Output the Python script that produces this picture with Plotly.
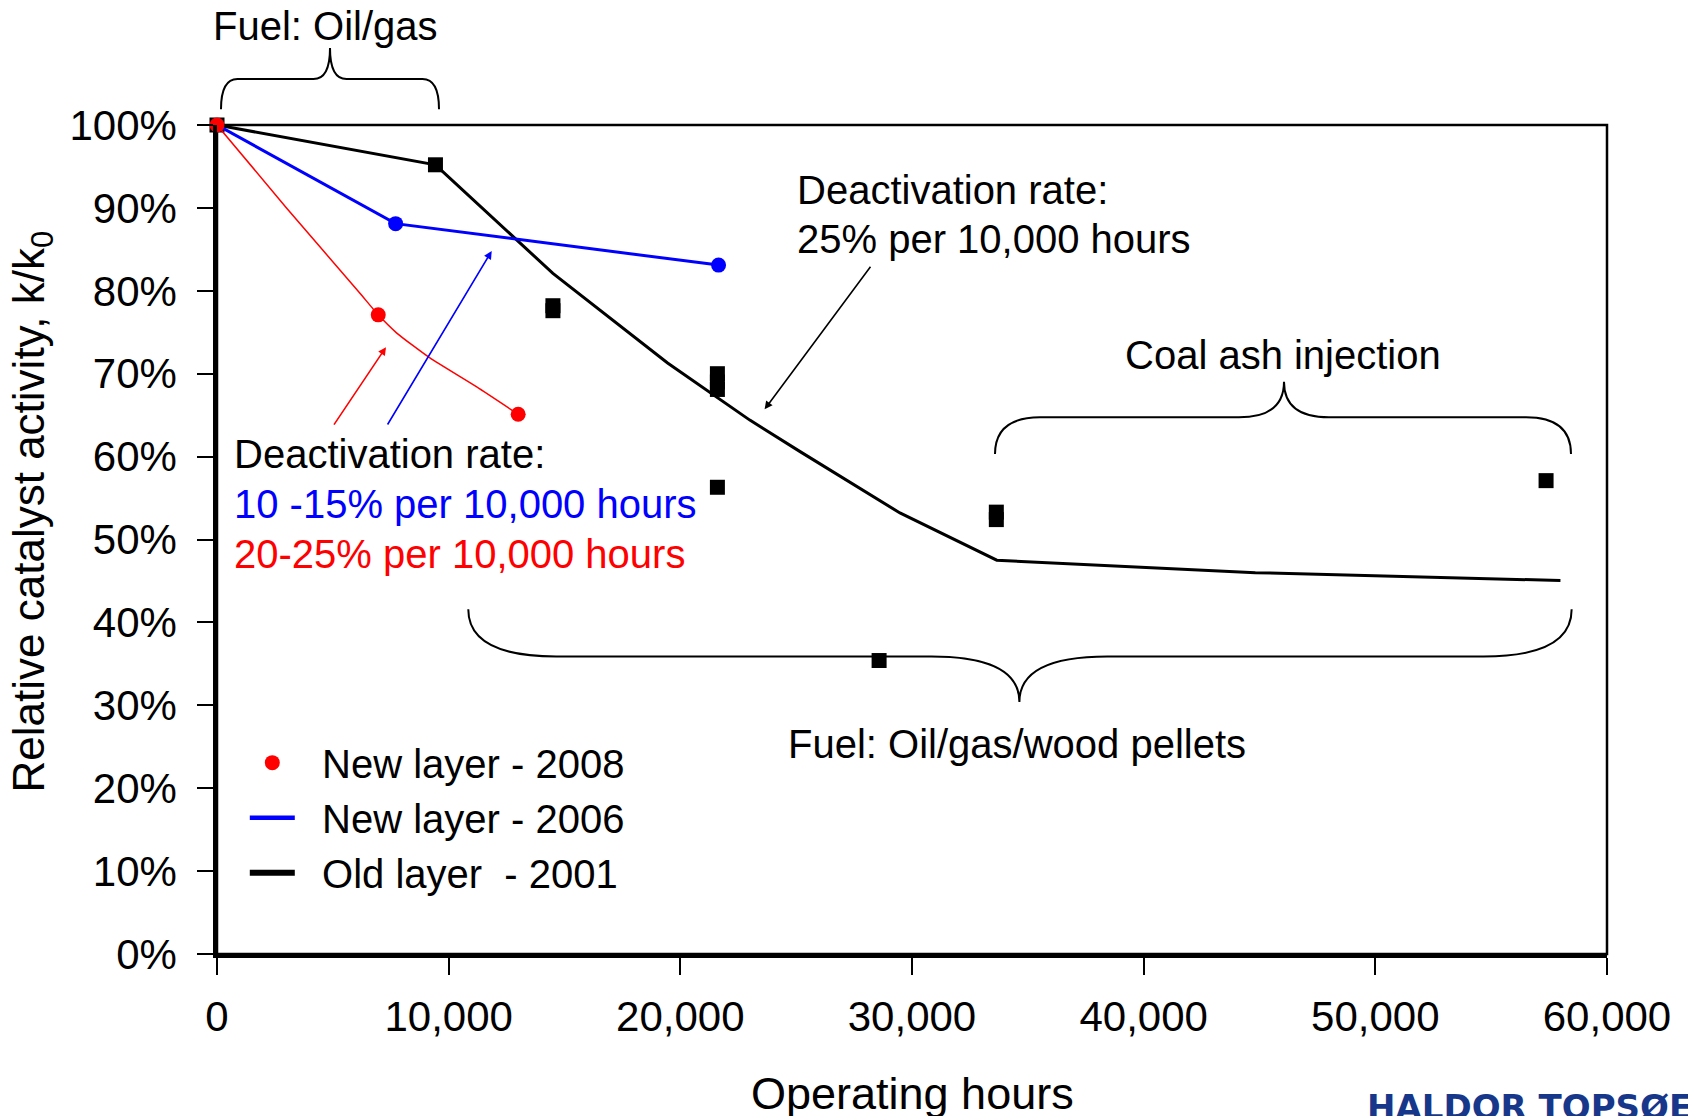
import plotly.graph_objects as go

FONT = "Arial, Liberation Sans, sans-serif"
X_RANGE = [0, 60000]
Y_RANGE = [0, 100]

x_ticks = [0, 10000, 20000, 30000, 40000, 50000, 60000]
y_ticks = [0, 10, 20, 30, 40, 50, 60, 70, 80, 90, 100]
y_tick_labels = [f"{v}%" for v in y_ticks]

# New layer - 2008: measured points and the hand drawn curve through them
hours_2008 = [0, 6960, 13000]
activity_2008 = [100, 77.1, 65.1]
curve_hours_2008 = [0, 3000, 6170, 6960, 7760, 9190, 11210, 13000]
curve_activity_2008 = [100, 90.0, 79.7, 77.1, 74.9, 71.9, 68.4, 65.1]

# New layer - 2006
hours_2006 = [0, 7710, 21650]
activity_2006 = [100, 88.1, 83.1]

# Old layer - 2001: trend line and measured points
trend_hours_2001 = [0, 9430, 14500, 19450, 23000, 25170, 29480, 33660, 44820, 57990]
trend_activity_2001 = [100, 95.2, 82.1, 71.3, 64.4, 60.6, 53.2, 47.5, 46.0, 45.05]
hours_2001 = [0, 9430, 14500, 14500, 21600, 21600, 21600, 21600, 28580, 33640, 33640, 57370]
activity_2001 = [100, 95.2, 78.2, 77.6, 70.0, 69.0, 68.1, 56.3, 35.4, 53.3, 52.4, 57.1]


def to_paper(x, y):
    xp = (x - X_RANGE[0]) / (X_RANGE[1] - X_RANGE[0])
    yp = (y - Y_RANGE[0]) / (Y_RANGE[1] - Y_RANGE[0])
    return f"{xp:.5f},{yp:.5f}"


def brace(x0, x1, xt, yb, ym, yt, cw):
    # curly brace from x0 to x1, ends at yb, body at ym, tip at (xt, yt)
    return (
        f"M{to_paper(x0, yb)} Q{to_paper(x0, ym)} {to_paper(x0 + cw, ym)} "
        f"L{to_paper(xt - cw, ym)} Q{to_paper(xt, ym)} {to_paper(xt, yt)} "
        f"Q{to_paper(xt, ym)} {to_paper(xt + cw, ym)} "
        f"L{to_paper(x1 - cw, ym)} Q{to_paper(x1, ym)} {to_paper(x1, yb)}"
    )


fig = go.Figure()

fig.add_trace(go.Scatter(
    x=trend_hours_2001, y=trend_activity_2001, mode="lines", showlegend=False,
    line=dict(color="black", width=3), cliponaxis=False,
))
fig.add_trace(go.Scatter(
    x=hours_2001, y=activity_2001, mode="markers", showlegend=False,
    marker=dict(symbol="square", size=15, color="black"), cliponaxis=False,
))
fig.add_trace(go.Scatter(
    x=hours_2006, y=activity_2006, mode="lines", showlegend=False,
    line=dict(color="#0000ff", width=3), cliponaxis=False,
))
fig.add_trace(go.Scatter(
    x=hours_2006[1:], y=activity_2006[1:], mode="markers", showlegend=False,
    marker=dict(size=15, color="#0000ff"), cliponaxis=False,
))
fig.add_trace(go.Scatter(
    x=curve_hours_2008, y=curve_activity_2008, mode="lines", showlegend=False,
    line=dict(color="#ff0000", width=1.5, shape="spline", smoothing=0.5), cliponaxis=False,
))
fig.add_trace(go.Scatter(
    x=hours_2008, y=activity_2008, mode="markers", name="\u00a0\u00a0New layer - 2008",
    marker=dict(size=15, color="#ff0000"), cliponaxis=False,
))

# legend keys drawn heavier than the plotted lines
fig.add_trace(go.Scatter(
    x=[None], y=[None], mode="lines", name="\u00a0\u00a0New layer - 2006",
    line=dict(color="#0000ff", width=4.5),
))
fig.add_trace(go.Scatter(
    x=[None], y=[None], mode="lines", name="\u00a0\u00a0Old layer\u00a0\u00a0- 2001",
    line=dict(color="black", width=6),
))

shapes = [
    dict(type="rect", xref="paper", yref="paper", x0=0, x1=1, y0=0, y1=1,
         line=dict(color="black", width=2.5), layer="below"),
    dict(type="path", xref="paper", yref="paper",
         path=brace(172, 9583, 4878, 101.9, 105.55, 109.3, 712),
         line=dict(color="black", width=2)),
    dict(type="path", xref="paper", yref="paper",
         path=brace(33583, 58446, 46057, 60.3, 64.74, 69.03, 1942),
         line=dict(color="black", width=2)),
    dict(type="path", xref="paper", yref="paper",
         path=brace(10847, 58474, 34636, 41.58, 35.89, 30.4, 3799),
         line=dict(color="black", width=2)),
]

text_font = dict(family=FONT, size=40, color="black")
annotations = [
    dict(xref="paper", yref="paper", x=4662 / X_RANGE[1], y=1.119,
         xanchor="center", yanchor="middle",
         text="Fuel: Oil/gas", showarrow=False, font=text_font),
    dict(x=24970, y=92.1, text="Deactivation rate:", xanchor="left",
         showarrow=False, font=text_font),
    dict(x=24970, y=86.3, text="25% per 10,000 hours", xanchor="left",
         showarrow=False, font=text_font),
    dict(x=46014, y=72.3, text="Coal ash injection", showarrow=False, font=text_font),
    dict(x=626, y=60.3, text="Deactivation rate:", xanchor="left",
         showarrow=False, font=text_font),
    dict(x=626, y=54.3, text="10 -15% per 10,000 hours", xanchor="left",
         showarrow=False, font=dict(family=FONT, size=40, color="#0000ff")),
    dict(x=626, y=48.3, text="20-25% per 10,000 hours", xanchor="left",
         showarrow=False, font=dict(family=FONT, size=40, color="#ff0000")),
    dict(x=34532, y=25.3, text="Fuel: Oil/gas/wood pellets", showarrow=False,
         font=text_font),
    # arrows
    dict(x=7295, y=73.2, ax=-53, ay=79, text="", showarrow=True,
         arrowhead=2, arrowsize=1, arrowwidth=1.6, arrowcolor="#ff0000"),
    dict(x=11857, y=84.8, ax=-105, ay=175, text="", showarrow=True,
         arrowhead=2, arrowsize=1, arrowwidth=1.6, arrowcolor="#0000ff"),
    dict(x=23637, y=65.7, ax=107, ay=-144, text="", showarrow=True,
         arrowhead=2, arrowsize=1, arrowwidth=1.6, arrowcolor="black"),
    # axis titles
    dict(xref="paper", yref="paper", x=0.5, y=-0.1677, xanchor="center",
         yanchor="middle", text="Operating hours", showarrow=False,
         font=dict(family=FONT, size=45, color="black")),
    dict(xref="paper", yref="paper", x=-0.133, y=0.534, xanchor="center",
         yanchor="middle", textangle=-90,
         text="Relative catalyst activity, k/k<sub>0</sub>", showarrow=False,
         font=dict(family=FONT, size=44, color="black")),
    dict(xref="paper", yref="paper", x=0.826, y=-0.158, xanchor="left",
         yanchor="top", text="<b>HALDOR TOPSØE</b>", showarrow=False,
         font=dict(family="DejaVu Sans", size=34, color="#17378a")),
]
for a in annotations:
    a.setdefault("xref", "x")
    a.setdefault("yref", "y")

fig.update_layout(
    width=1688, height=1116,
    margin=dict(l=217, r=81, t=125, b=162),
    paper_bgcolor="white", plot_bgcolor="white",
    font=dict(family=FONT, size=42, color="black"),
    showlegend=True,
    legend=dict(
        x=0.02, y=0.27, xanchor="left", yanchor="top",
        font=dict(family=FONT, size=40, color="black"),
        bgcolor="rgba(0,0,0,0)", itemwidth=45,
    ),
    shapes=shapes,
    annotations=annotations,
)
fig.update_xaxes(
    range=X_RANGE, tickvals=x_ticks, tickformat=",d",
    showgrid=False, zeroline=False,
    showline=True, linecolor="black", linewidth=3.5,
    ticks="outside", ticklen=17, tickwidth=2, tickcolor="black",
    ticklabelstandoff=6, tickfont=dict(family=FONT, size=42),
)
fig.update_yaxes(
    range=Y_RANGE, tickvals=y_ticks, ticktext=y_tick_labels,
    showgrid=False, zeroline=False,
    showline=True, linecolor="black", linewidth=3.5,
    ticks="outside", ticklen=16, tickwidth=2, tickcolor="black",
    ticklabelstandoff=12, tickfont=dict(family=FONT, size=42),
)

# drop the default 8px body margin so the figure fills the window
fig.write_html(
    "out.html",
    config={"displayModeBar": False},
    post_script="document.body.style.margin = '0px';",
)
